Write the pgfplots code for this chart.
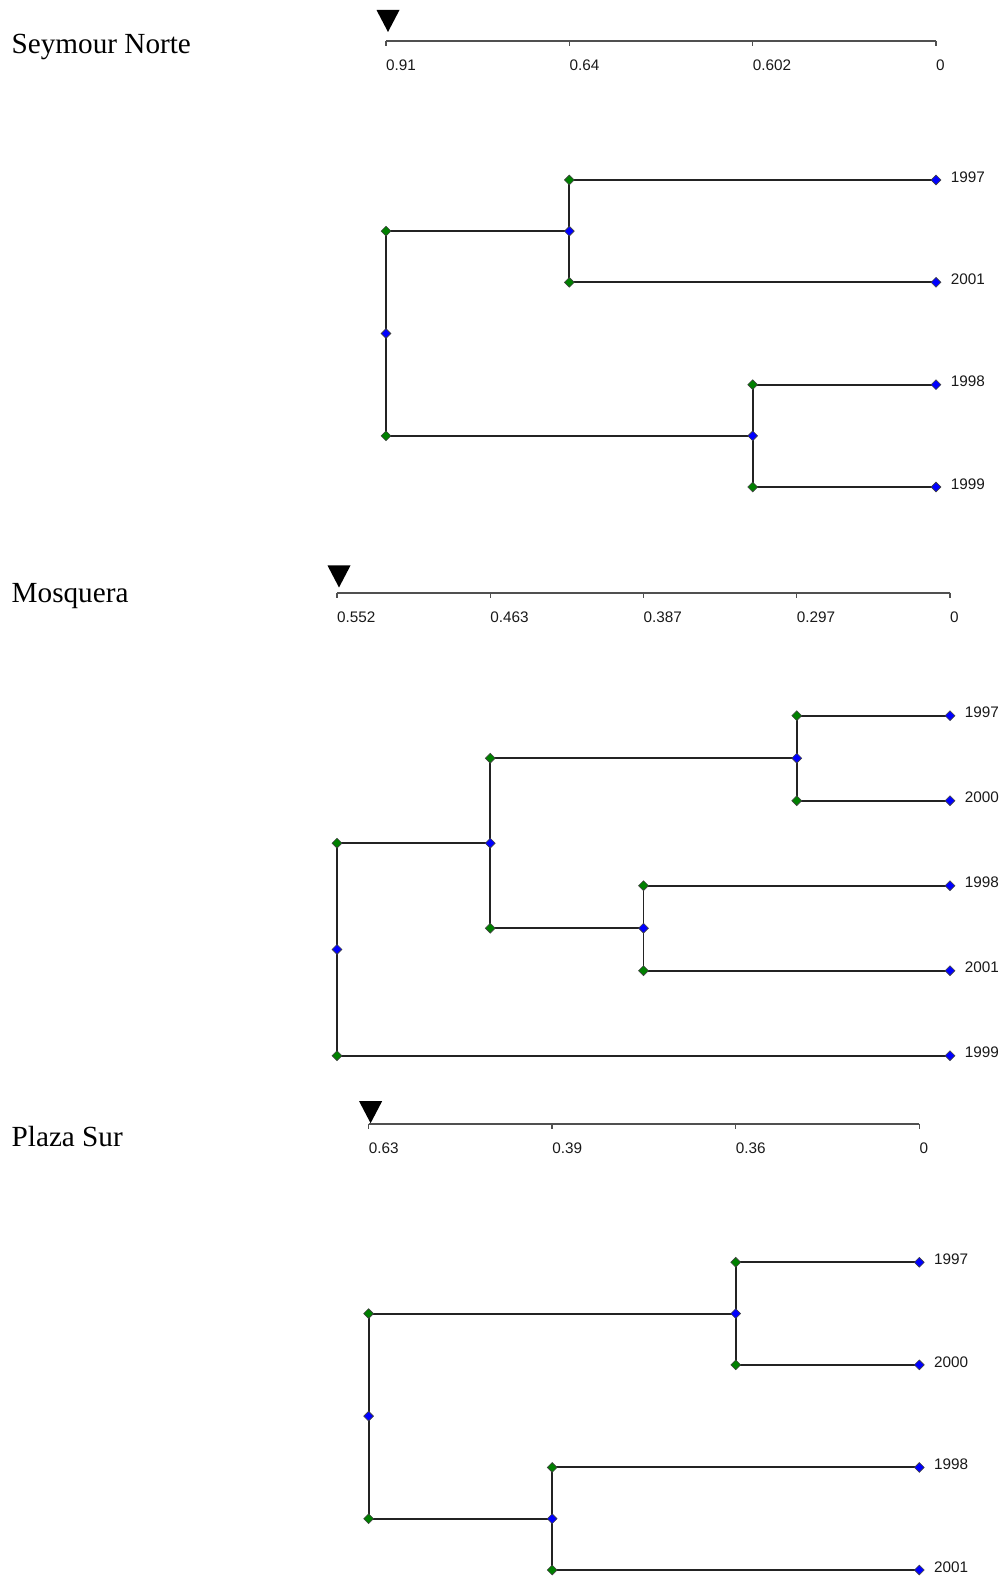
\documentclass[border=0pt]{standalone}
\usepackage{fontspec}
\setmainfont{Liberation Serif}
\newfontfamily\tickfont{Liberation Sans}
\usepackage{pgfplots}
\pgfplotsset{compat=1.18}
\definecolor{dgreen}{RGB}{0,128,0}
\definecolor{dblue}{RGB}{0,0,255}
\definecolor{axgray}{RGB}{80,80,80}
\definecolor{lnc}{RGB}{35,35,35}

\pgfdeclareplotmark{dia}{%
  \pgfpathmoveto{\pgfqpoint{0pt}{4.9pt}}%
  \pgfpathlineto{\pgfqpoint{4.9pt}{0pt}}%
  \pgfpathlineto{\pgfqpoint{0pt}{-4.9pt}}%
  \pgfpathlineto{\pgfqpoint{-4.9pt}{0pt}}%
  \pgfpathclose\pgfusepathqfillstroke}
\pgfdeclareplotmark{dtri}{%
  \pgfpathmoveto{\pgfqpoint{-11.5pt}{22pt}}%
  \pgfpathlineto{\pgfqpoint{11.5pt}{22pt}}%
  \pgfpathlineto{\pgfqpoint{0pt}{0pt}}%
  \pgfpathclose\pgfusepathqfill}

\pgfplotsset{
  dendro/.style={
    scale only axis, clip=false,
    axis x line=top, axis y line=none,
    tick align=inside, major tick length=5pt,
    x axis line style={draw=axgray, line width=2pt, -},
    xtick style={draw=axgray, line width=1.4pt},
    xticklabel style={font=\tickfont\fontsize{15.3}{18}\selectfont, anchor=north west, inner sep=0pt, yshift=-19pt, text=black!90},
    xmin=0, ymin=1,
  },
  link/.style={draw=lnc, line width=1.9pt, mark=none},
  gnode/.style={only marks, mark=dia, mark options={fill=dgreen, draw=black!75, line width=0.6pt}},
  bnode/.style={only marks, mark=dia, mark options={fill=dblue, draw=black!75, line width=0.6pt}},
  leaves/.style={only marks, mark=dia, mark options={fill=dblue, draw=black!75, line width=0.6pt},
    nodes near coords, point meta=explicit symbolic,
    every node near coord/.append style={anchor=west, xshift=14.5pt, yshift=3pt, inner sep=0pt,
      font=\tickfont\fontsize{15.3}{18}\selectfont, text=black!90}},
  cut/.style={only marks, mark=dtri, mark options={xshift=2pt, fill=black}},
}

\begin{document}
\begin{tikzpicture}
\useasboundingbox (0pt,0pt) rectangle (1002pt,-1579pt);

% ---------- Seymour Norte ----------
\node[anchor=base west, inner sep=0pt, font=\fontsize{29.2}{35}\selectfont] at (11.5pt,-54pt) {Seymour Norte};
\begin{axis}[dendro, at={(386pt,-487pt)}, anchor=south west,
  width=550pt, height=446pt, xmax=3, ymax=5.358,
  xtick={0,1,2,3}, xticklabels={0.91,0.64,0.602,0}]
  \addplot[link] coordinates {(3,4) (1,4) (1,3) (3,3)};
  \addplot[link] coordinates {(3,2) (2,2) (2,1) (3,1)};
  \addplot[link] coordinates {(1,3.5) (0,3.5) (0,1.5) (2,1.5)};
  \addplot[gnode] coordinates {(0,3.5) (0,1.5) (1,4) (1,3) (2,2) (2,1)};
  \addplot[bnode] coordinates {(0,2.5) (1,3.5) (2,1.5)};
  \addplot[leaves] coordinates {(3,4) [1997] (3,3) [2001] (3,2) [1998] (3,1) [1999]};
  \addplot[cut] coordinates {(0,5.446)};
\end{axis}

% ---------- Mosquera ----------
\node[anchor=base west, inner sep=0pt, font=\fontsize{29.2}{35}\selectfont] at (11.5pt,-602pt) {Mosquera};
\begin{axis}[dendro, at={(337pt,-1055.7pt)}, anchor=south west,
  width=613pt, height=463.2pt, xmax=4, ymax=6.449,
  xtick={0,1,2,3,4}, xticklabels={0.552,0.463,0.387,0.297,0}]
  \addplot[link] coordinates {(4,5) (3,5) (3,4) (4,4)};
  \addplot[link] coordinates {(4,3) (2,3) (2,2) (4,2)};
  \addplot[link] coordinates {(3,4.5) (1,4.5) (1,2.5) (2,2.5)};
  \addplot[link] coordinates {(1,3.5) (0,3.5) (0,1) (4,1)};
  \addplot[gnode] coordinates {(0,3.5) (0,1) (1,4.5) (1,2.5) (3,5) (3,4) (2,3) (2,2)};
  \addplot[bnode] coordinates {(0,2.25) (1,3.5) (3,4.5) (2,2.5)};
  \addplot[leaves] coordinates {(4,5) [1997] (4,4) [2000] (4,3) [1998] (4,2) [2001] (4,1) [1999]};
  \addplot[cut] coordinates {(0,6.508)};
\end{axis}

% ---------- Plaza Sur ----------
\node[anchor=base west, inner sep=0pt, font=\fontsize{29.2}{35}\selectfont] at (11.5pt,-1146pt) {Plaza Sur};
\begin{axis}[dendro, at={(368.6pt,-1570pt)}, anchor=south west,
  width=550.7pt, height=446.5pt, xmax=3, ymax=5.353,
  xtick={0,1,2,3}, xticklabels={0.63,0.39,0.36,0}]
  \addplot[link] coordinates {(3,4) (2,4) (2,3) (3,3)};
  \addplot[link] coordinates {(3,2) (1,2) (1,1) (3,1)};
  \addplot[link] coordinates {(2,3.5) (0,3.5) (0,1.5) (1,1.5)};
  \addplot[gnode] coordinates {(0,3.5) (0,1.5) (2,4) (2,3) (1,2) (1,1)};
  \addplot[bnode] coordinates {(0,2.5) (2,3.5) (1,1.5)};
  \addplot[leaves] coordinates {(3,4) [1997] (3,3) [2000] (3,2) [1998] (3,1) [2001]};
  \addplot[cut] coordinates {(0,5.356)};
\end{axis}
\end{tikzpicture}
\end{document}
